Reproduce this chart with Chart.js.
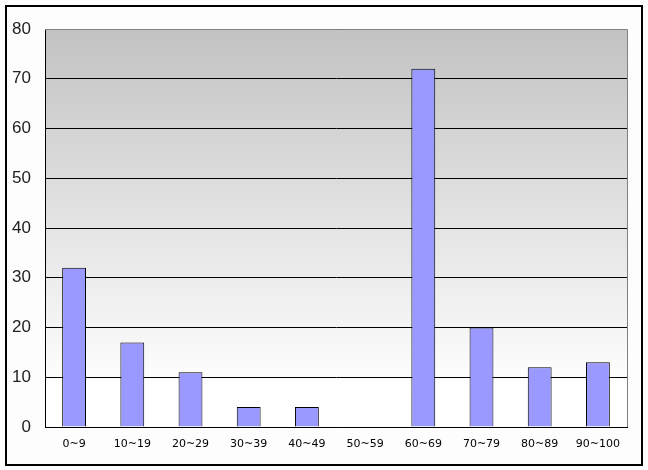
<!DOCTYPE html>
<html lang="ja">
<head>
<meta charset="UTF-8">
<title>Score distribution</title>
<style>
    body { margin: 0; background: #ffffff; }
    #wrap { position: relative; width: 648px; height: 470px; }
</style>
</head>
<body>
<div id="wrap">
    <canvas id="myChart" width="648" height="470"></canvas>
</div>

<script src="https://cdn.jsdelivr.net/npm/chart.js"></script>
<script>
    // categories and counts
    const labels = ['0~9', '10~19', '20~29', '30~39', '40~49', '50~59', '60~69', '70~79', '80~89', '90~100'];
    const counts = [32, 17, 11, 4, 4, 0, 72, 20, 12, 13];
    const yTicks = [0, 10, 20, 30, 40, 50, 60, 70, 80];

    // frame round the whole picture + gradient behind the plot
    const frame = {
        id: 'frame',
        beforeDraw(chart) {
            const ctx = chart.ctx;
            const a = chart.chartArea;
            ctx.save();
            ctx.fillStyle = '#fdfdfd';
            ctx.fillRect(0, 0, chart.width, chart.height);
            ctx.strokeStyle = '#000000';
            ctx.lineWidth = 2;
            ctx.strokeRect(6, 6, 636, 459);
            const g = ctx.createLinearGradient(0, a.top, 0, a.bottom);
            g.addColorStop(0, '#c2c2c2');
            g.addColorStop(0.9, '#ffffff');
            g.addColorStop(1, '#ffffff');
            ctx.fillStyle = g;
            ctx.fillRect(a.left, a.top, a.right - a.left, a.bottom - a.top);
            ctx.restore();
        },
        afterDatasetsDraw(chart) {
            const ctx = chart.ctx;
            const a = chart.chartArea;
            ctx.save();
            ctx.strokeStyle = '#808080';
            ctx.lineWidth = 1;
            ctx.beginPath();
            ctx.moveTo(a.left, a.top + 0.5);
            ctx.lineTo(a.right + 0.5, a.top + 0.5);
            ctx.lineTo(a.right + 0.5, a.bottom);
            ctx.stroke();
            ctx.restore();
        }
    };

    const config = {
        type: 'bar',
        data: {
            labels: labels,
            datasets: [{
                data: counts,
                backgroundColor: '#9999ff',
                borderColor: '#000000',
                borderWidth: 1,
                barPercentage: 0.82,
                categoryPercentage: 0.5
            }]
        },
        options: {
            responsive: false,
            animation: false,
            layout: { padding: { top: 29, right: 21, left: 0, bottom: 0 } },
            plugins: {
                legend: { display: false },
                tooltip: { enabled: false }
            },
            scales: {
                x: {
                    grid: { display: false, drawTicks: false },
                    border: { display: true, color: '#000000', width: 1 },
                    ticks: {
                        color: '#000000',
                        padding: 11,
                        maxRotation: 0,
                        autoSkip: false,
                        font: { family: 'DejaVu Sans', size: 11 }
                    },
                    afterFit(scale) { scale.height = 43; }
                },
                y: {
                    min: 0,
                    max: 80,
                    afterBuildTicks(scale) {
                        scale.ticks = yTicks.map(v => ({ value: v }));
                    },
                    grid: {
                        drawTicks: false,
                        color: '#000000',
                        lineWidth: 1
                    },
                    border: { display: true, color: '#000000', width: 1 },
                    ticks: {
                        color: '#222222',
                        padding: 14,
                        font: { family: 'Liberation Sans', size: 17 }
                    },
                    afterFit(scale) { scale.width = 45; }
                }
            }
        },
        plugins: [frame]
    };

    const myChart = new Chart(document.getElementById('myChart'), config);
</script>
</body>
</html>
